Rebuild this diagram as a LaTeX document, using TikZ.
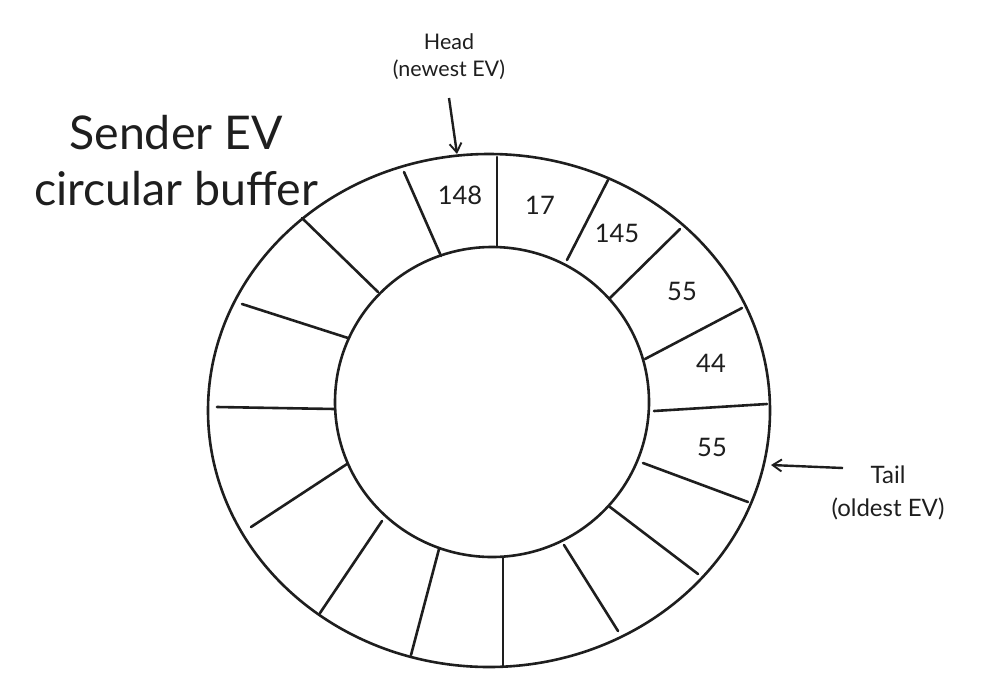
\documentclass[tikz,border=0pt]{standalone}
\usepackage{fontspec}
\setmainfont{Lato}
\usetikzlibrary{arrows.meta}
\definecolor{ink}{HTML}{1E1E1E}
\begin{document}
\begin{tikzpicture}[x=1pt,y=-1pt,
  ring/.style={draw=ink,line width=2.6pt},
  spoke/.style={draw=ink,line width=2.6pt,line cap=round},
  ptr/.style={draw=ink,line width=2.4pt,-{Straight Barb[length=9pt,width=12pt,line width=1.9pt]}},
  num/.style={text=ink,font=\fontsize{25.5}{28}\selectfont,inner sep=0pt},
  lbl/.style={text=ink,align=center,inner sep=0pt}]
\useasboundingbox (0,0) rectangle (987,689);
% rings
\draw[ring] (489,410.5) ellipse [x radius=281, y radius=256.5];
\draw[ring] (492,402) ellipse [x radius=157, y radius=155];
% spokes
\draw[spoke] (404,172) -- (441,256);
\draw[spoke] (497,157) -- (497,247);
\draw[spoke] (608,180) -- (567,260);
\draw[spoke] (680,229) -- (610,298);
\draw[spoke] (742,308) -- (645,359);
\draw[spoke] (767,404) -- (654,411);
\draw[spoke] (748,502) -- (643,463);
\draw[spoke] (698,574) -- (610,507);
\draw[spoke] (618,631) -- (564,545);
\draw[spoke] (503,666) -- (503,558);
\draw[spoke] (411,655) -- (439,549);
\draw[spoke] (320,613) -- (382,521);
\draw[spoke] (251,527) -- (347,464);
\draw[spoke] (217,407) -- (335,409);
\draw[spoke] (242,304) -- (348,338);
\draw[spoke] (302,218) -- (378,292);
% values
\node[num] (v1) at (460,195) {148};
\node[num] (v2) at (540,205) {17};
\node[num] (v3) at (617,233) {145};
\node[num] (v4) at (682,291) {55};
\node[num] (v5) at (711,363) {44};
\node[num] (v6) at (712,447) {55};
% title
\node[lbl,font=\fontsize{46.5}{56}\selectfont] (title) at (176,161) {Sender EV\\circular buffer};
% head / tail
\node[lbl,font=\fontsize{21.5}{27}\selectfont] (head) at (449,57) {Head\\(newest EV)};
\node[lbl,font=\fontsize{24}{33}\selectfont] (tail) at (888,493) {Tail\\(oldest EV)};
\coordinate (hs) at (449,98);
\coordinate (he) at (457,154);
\coordinate (ts) at (843,468);
\coordinate (te) at (771,465);
\draw[ptr] (hs) -- (he);
\draw[ptr] (ts) -- (te);
\end{tikzpicture}
\end{document}
